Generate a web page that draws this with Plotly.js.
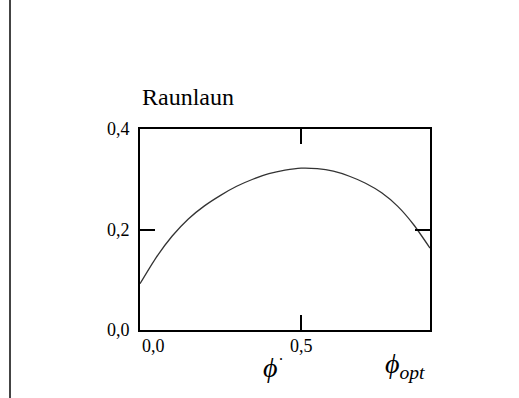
<!DOCTYPE html>
<html>
<head>
<meta charset="utf-8">
<script src="https://cdn.plot.ly/plotly-3.0.1.min.js"></script>
<style>
  html, body { margin: 0; padding: 0; background: #fff; }
  #chart { width: 519px; height: 398px; }
</style>
</head>
<body>
<div id="chart"></div>
<script>
// Curve samples: phi vs. response
var phi = [0, 0.05, 0.1, 0.15, 0.2, 0.25, 0.3, 0.35, 0.4, 0.45, 0.5, 0.55, 0.6, 0.65, 0.7, 0.75, 0.8, 0.85, 0.9];
var resp = [0.092, 0.144, 0.187, 0.221, 0.247, 0.268, 0.286, 0.300, 0.311, 0.318, 0.322, 0.321, 0.316, 0.306, 0.292, 0.273, 0.246, 0.209, 0.163];

// Axis ticks and labels
var xTickVals = [0, 0.5];
var xTickText = ['0,0', '0,5'];
var yTickVals = [0, 0.2, 0.4];
var yTickText = ['0,0', '0,2', '0,4'];

var serif = 'Liberation Serif, Times New Roman, serif';

var trace = {
  x: phi,
  y: resp,
  mode: 'lines',
  line: { color: '#333', width: 1.3, shape: 'spline', smoothing: 0.6 },
  hoverinfo: 'skip'
};

// x tick labels as annotations (0,0 sits just right of the corner)
var xLabelAnn = xTickVals.map(function (v, i) {
  return {
    xref: 'x', yref: 'paper', x: v, y: 0,
    yshift: -4, yanchor: 'top',
    xanchor: i === 0 ? 'left' : 'center',
    text: xTickText[i], showarrow: false,
    font: { family: serif, size: 18, color: '#000' }
  };
});

var layout = {
  width: 519, height: 398,
  margin: { l: 140, r: 89, t: 129, b: 68 },
  paper_bgcolor: '#fff', plot_bgcolor: '#fff',
  showlegend: false,
  xaxis: {
    range: [0, 0.9], tickvals: xTickVals, showticklabels: false,
    ticks: 'inside', ticklen: 15, tickwidth: 2, tickcolor: '#000',
    showline: true, linewidth: 2, linecolor: '#000', mirror: 'ticks',
    showgrid: false, zeroline: false, fixedrange: true
  },
  yaxis: {
    range: [0, 0.4], tickvals: yTickVals, ticktext: yTickText,
    ticks: 'inside', ticklen: 15, tickwidth: 2, tickcolor: '#000',
    ticklabelstandoff: 5,
    tickfont: { family: serif, size: 18, color: '#000' },
    showline: true, linewidth: 2, linecolor: '#000', mirror: 'ticks',
    showgrid: false, zeroline: false, fixedrange: true
  },
  shapes: [{
    type: 'line', xref: 'paper', yref: 'paper',
    x0: -130 / 290, x1: -130 / 290, y0: -70 / 201, y1: 1 + 132 / 201,
    line: { color: '#444', width: 2 }
  }],
  annotations: xLabelAnn.concat([
    {
      xref: 'paper', yref: 'paper', x: 0, y: 1, yshift: 17,
      xanchor: 'left', yanchor: 'bottom', showarrow: false,
      text: 'Raunlaun', font: { family: serif, size: 24, color: '#000' }
    },
    {
      xref: 'paper', yref: 'paper', x: 121 / 290, y: -20 / 201,
      xanchor: 'left', yanchor: 'top', showarrow: false,
      text: '<i>ϕ</i>', font: { family: serif, size: 28, color: '#000' }
    },
    {
      xref: 'paper', yref: 'paper', x: 141 / 290, y: -14 / 201,
      xanchor: 'center', yanchor: 'top', showarrow: false,
      text: '.', font: { family: serif, size: 16, color: '#000' }
    },
    {
      xref: 'paper', yref: 'paper', x: 243 / 290, y: -16 / 201,
      xanchor: 'left', yanchor: 'top', showarrow: false,
      text: '<i>ϕ</i><sub><i>opt</i></sub>', font: { family: serif, size: 28, color: '#000' }
    }
  ])
};

Plotly.newPlot('chart', [trace], layout, { displayModeBar: false, staticPlot: true });
</script>
</body>
</html>
